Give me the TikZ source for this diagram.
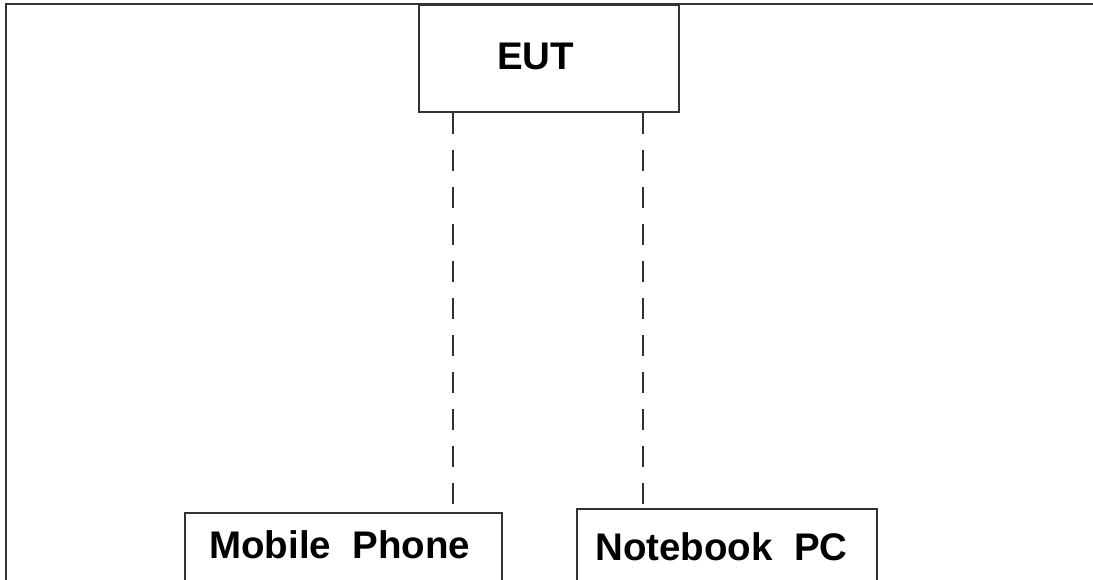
\documentclass[tikz,border=0pt]{standalone}
\usepackage{fontspec}
\setmainfont{Liberation Sans}
\usetikzlibrary{calc}
\definecolor{linegray}{RGB}{50,50,50}
\tikzset{
  frameline/.style={draw=linegray, line width=2.2pt},
  boxnode/.style={draw=linegray, line width=2pt, fill=white, inner sep=0pt},
  label text/.style={font=\fontsize{38.5}{40}\selectfont\bfseries, inner sep=0pt, anchor=base west, text=black},
  dashline/.style={draw=linegray, line width=1.8pt, dash pattern=on 21pt off 16pt}
}
\begin{document}
\begin{tikzpicture}[x=1pt,y=-1pt]
\useasboundingbox (0,0) rectangle (1093,580);
\clip (0,0) rectangle (1093,580);
\fill[white] (0,0) rectangle (1093,580);
% outer frame (top and left)
\coordinate (frameTR) at (1095,4);
\coordinate (frameTL) at (6,4);
\coordinate (frameBL) at (6,585);
\draw[frameline] (frameTR) -- (frameTL) -- (frameBL);
% boxes
\node[boxnode, anchor=north west, minimum width=260pt, minimum height=107pt] (eut) at (418,4) {};
\node[boxnode, anchor=north west, minimum width=317pt, minimum height=120pt] (mobile) at (184,512) {};
\node[boxnode, anchor=north west, minimum width=300pt, minimum height=120pt] (notebook) at (576,508) {};
% texts
\node[label text] (eutText) at (497,70) {EUT};
\node[label text] (mobileText) at (209,558) {Mobile\hspace{0.556em}Phone};
\node[label text] (notebookText) at (595,560) {Notebook\hspace{0.556em}PC};
% dashed connectors
\coordinate (eutL) at ($(eut.south west)+(35,0)$);
\coordinate (eutR) at ($(eut.south west)+(225,0)$);
\draw[dashline] (eutL) -- (eutL |- mobile.north);
\draw[dashline] (eutR) -- (eutR |- notebook.north);
\end{tikzpicture}
\end{document}
